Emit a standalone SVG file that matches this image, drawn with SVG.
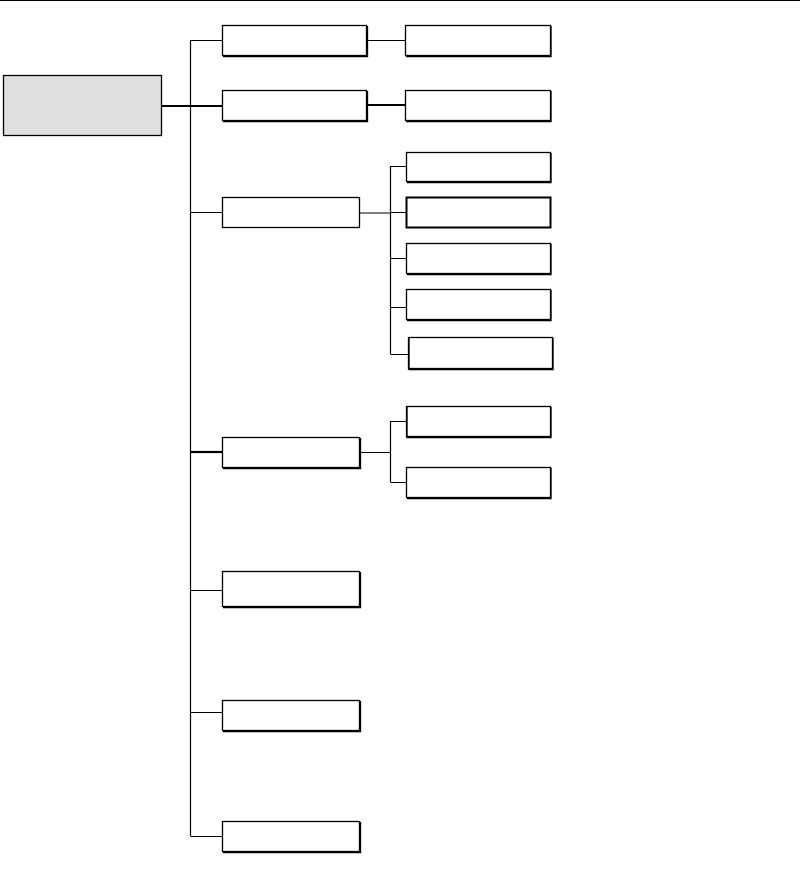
<svg xmlns="http://www.w3.org/2000/svg" width="800" height="882" viewBox="0 0 800 882">
<style>
.b{fill:#fff;stroke:#000;stroke-width:1.3}
.r{fill:#dfdfdf;stroke:#000;stroke-width:1.3}
.s{fill:none;stroke:#000;stroke-width:1.3}
.c{fill:none;stroke:#000;stroke-width:1.2}
.t{fill:none;stroke:#000;stroke-width:2.2}
</style>
<rect x="0" y="0" width="800" height="882" fill="#fff"/>
<line x1="0" y1="0.5" x2="800" y2="0.5" stroke="#000" stroke-width="1.2"/>
<g id="connectors">
<path class="c" d="M190.5,836 V40.5 H222"/>
<path class="t" d="M162,106 H222"/>
<path class="c" d="M190.5,212.5 H222 M190.5,590.5 H222 M190.5,712.5 H222 M190.5,836.5 H222"/>
<path class="t" d="M190.5,452 H222"/>
<path class="c" d="M367,40.5 H405"/>
<path class="t" d="M367,105 H405"/>
<path class="c" d="M360,213 H390.5 M390.5,166 V354 M390.5,166.5 H406 M390.5,212.5 H406 M390.5,258.5 H406 M390.5,307.5 H406 M390.5,354.5 H408"/>
<path class="c" d="M360,452.5 H390.5 M390.5,421 V482 M390.5,421.5 H406 M390.5,482.5 H406"/>
</g>
<g id="root"><rect class="r" x="3.5" y="75.5" width="158" height="60"/></g>
<g id="n1"><rect class="b" x="222.5" y="25.5" width="144" height="30"/><path class="s" d="M367.5,26 V56.5 H223"/></g>
<g id="n1a"><rect class="b" x="405.5" y="25.5" width="145" height="30"/><path class="s" d="M551,26 V56.5 H406"/></g>
<g id="n2"><rect class="b" x="222.5" y="90.5" width="144" height="30"/><path class="s" d="M367.5,91 V121.5 H223"/></g>
<g id="n2a"><rect class="b" x="405.5" y="90.5" width="145" height="30"/><path class="s" d="M551,91 V121.5 H406"/></g>
<g id="n3"><rect class="b" x="222.5" y="197.5" width="137" height="30"/></g>
<g id="n3a"><rect class="b" x="406.5" y="152.5" width="144" height="29"/><path class="s" d="M551,153 V182.5 H407"/></g>
<g id="n3b"><rect class="b" x="406.5" y="197.5" width="144" height="30" style="stroke-width:2"/></g>
<g id="n3c"><rect class="b" x="406.5" y="243.5" width="144" height="30"/><path class="s" d="M551,244 V274.5 H407"/></g>
<g id="n3d"><rect class="b" x="406.5" y="289.5" width="144" height="30"/><path class="s" d="M551,290 V320.5 H407"/></g>
<g id="n3e"><rect class="b" x="408.5" y="337.5" width="144" height="31"/><path class="s" d="M553,338 V369.5 H409 V338"/></g>
<g id="n4"><rect class="b" x="222.5" y="437.5" width="137" height="30"/><path class="s" d="M360.5,438 V468.5 H223"/></g>
<g id="n4a"><rect class="b" x="406.5" y="406.5" width="144" height="30"/><path class="s" d="M551,407 V437.5 H407 V407"/></g>
<g id="n4b"><rect class="b" x="406.5" y="467.5" width="144" height="30"/><path class="s" d="M551,468 V498.5 H407"/></g>
<g id="n5"><rect class="b" x="222.5" y="571.5" width="137" height="35"/><path class="s" d="M360.5,572 V607.5 H223"/></g>
<g id="n6"><rect class="b" x="222.5" y="700.5" width="137" height="30"/><path class="s" d="M360.5,701 V731.5 H223"/></g>
<g id="n7"><rect class="b" x="222.5" y="821.5" width="137" height="30"/><path class="s" d="M360.5,822 V852.5 H223"/></g>
</svg>
